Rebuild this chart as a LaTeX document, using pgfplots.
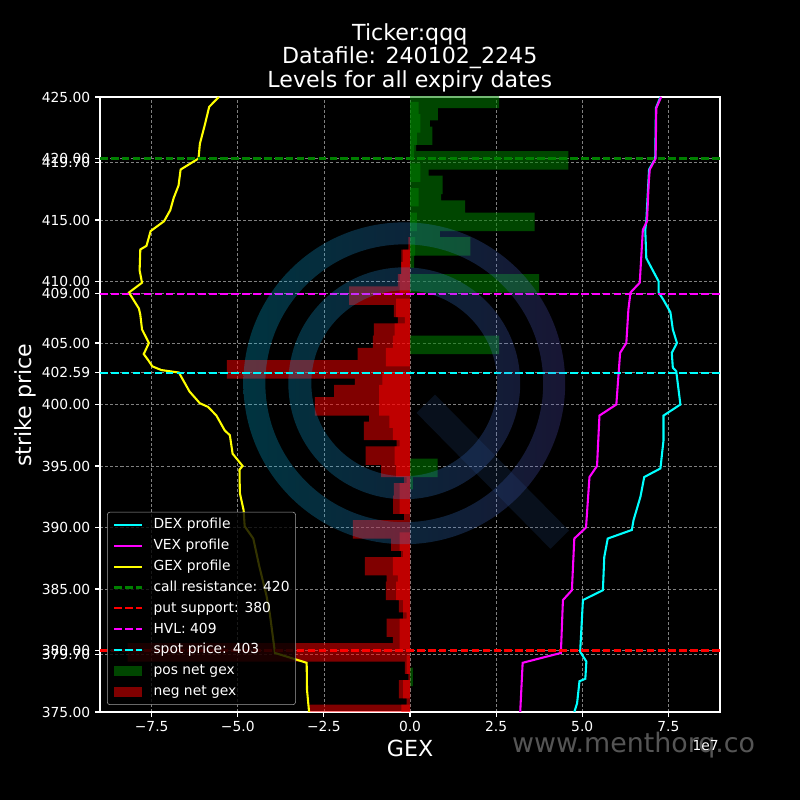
\documentclass[border=0pt]{standalone}
\usepackage{fontspec}
\setmainfont{DejaVu Sans}
\usepackage{pgfplots}
\pgfplotsset{compat=1.18}
\definecolor{poscol}{RGB}{0,128,0}
\definecolor{negcol}{RGB}{255,0,0}
\definecolor{dexcol}{RGB}{0,255,255}
\definecolor{vexcol}{RGB}{255,0,255}
\definecolor{gexcol}{RGB}{255,255,0}
\definecolor{gridcol}{RGB}{128,128,128}
\definecolor{wmgray}{RGB}{85,85,85}
\definecolor{legframe}{RGB}{160,160,160}
\definecolor{logoA}{RGB}{0,208,255}
\definecolor{logoB}{RGB}{96,88,208}
\definecolor{logoC}{RGB}{40,80,140}

\pgfplotstableread{
x y
2.59 424.85
0.81 423.85
0.58 422.85
0.65 421.85
0.18 420.85
4.60 419.85
0.54 418.85
0.95 417.85
0.90 416.85
1.60 415.85
3.62 414.85
0.87 413.85
1.75 412.85
0.12 411.85
3.75 409.85
2.59 404.85
0.80 394.85
0.08 393.85
0.08 377.85
}\posbars

\pgfplotstableread{
x y
0.25 423.85
0.30 422.85
0.20 421.85
0.12 420.85
0.30 418.85
0.25 416.85
0.20 414.85
0.15 412.85
}\posbarsb

\pgfplotstableread{
x y
-0.05 412.85
-0.20 411.85
-0.26 410.85
-0.35 409.85
-1.77 408.85
-0.70 408.85
-0.47 407.85
-0.15 406.85
-1.05 405.85
-1.08 404.85
-1.52 403.85
-5.32 402.85
-2.00 402.85
-1.60 401.85
-2.20 400.85
-2.76 399.85
-1.19 398.85
-1.34 397.85
-0.39 396.85
-1.29 395.85
-0.84 394.85
-0.17 393.85
-0.47 392.85
-0.49 391.85
-0.17 390.85
-1.66 389.85
-0.60 389.85
-0.55 388.85
-0.26 387.85
-1.31 386.85
-0.68 385.85
-0.70 384.85
-0.32 383.85
-0.20 382.85
-0.68 381.85
-0.50 380.85
-8.20 379.85
-0.70 379.85
-0.15 378.85
-0.05 377.85
-0.32 376.85
-0.10 375.85
-2.94 374.85
}\negbars

\pgfplotstableread{
x y
-0.25 411.85
-0.25 410.85
-0.30 409.85
-0.40 407.85
-0.35 406.85
-0.45 405.85
-0.50 404.85
-0.70 403.85
-0.80 401.85
-0.90 400.85
-0.90 399.85
-0.60 398.85
-0.50 397.85
-0.30 396.85
-0.45 395.85
-0.40 394.85
-0.10 393.85
-0.30 392.85
-0.30 391.85
-0.30 388.85
-0.20 387.85
-0.50 386.85
-0.35 385.85
-0.40 384.85
-0.20 383.85
-0.10 382.85
-0.30 381.85
-0.30 380.85
-0.10 378.85
-0.20 376.85
-0.25 374.85
}\negbarsb

\pgfplotstableread{
x y
7.27 425.0
7.14 424.1
7.12 420.0
6.94 419.1
6.86 414.9
6.83 414.2
6.86 411.9
7.22 410.0
7.22 409.1
7.36 408.5
7.56 407.5
7.63 406.1
7.75 405.0
7.60 404.2
7.63 403.0
7.73 402.7
7.85 400.0
7.36 399.1
7.36 397.1
7.27 394.8
6.80 394.1
6.69 392.5
6.49 390.6
6.44 389.8
5.74 389.1
5.64 387.6
5.60 384.9
5.02 384.1
4.94 379.9
5.12 379.1
5.09 377.7
4.92 377.5
4.85 375.7
4.77 375.0
}\dex

\pgfplotstableread{
x y
7.29 425.0
7.15 424.1
7.13 420.0
6.96 419.1
6.93 418.0
6.88 414.9
6.76 414.2
6.67 409.9
6.40 409.1
6.34 407.7
6.28 405.0
6.10 404.2
5.99 400.0
5.50 399.1
5.43 395.0
5.21 394.1
5.11 390.0
4.77 389.1
4.70 384.9
4.44 384.1
4.38 379.8
3.27 379.0
3.20 375.0
}\vex

\pgfplotstableread{
x y
-5.55 425.0
-5.83 424.2
-5.96 422.7
-6.10 421.2
-6.14 420.0
-6.66 419.1
-6.72 417.8
-6.86 416.8
-6.96 415.8
-7.14 414.9
-7.53 414.1
-7.65 412.9
-7.83 412.6
-7.85 410.9
-7.78 409.9
-8.16 409.1
-7.87 407.8
-7.83 407.3
-7.78 406.1
-7.58 405.0
-7.73 404.1
-7.60 403.6
-7.48 403.1
-7.22 402.8
-6.71 402.6
-6.40 401.05
-6.10 400.1
-5.86 399.8
-5.62 399.1
-5.38 397.9
-5.23 397.5
-5.15 396.0
-4.86 395.0
-4.95 394.7
-4.94 392.8
-4.83 391.4
-4.80 390.1
-4.55 389.1
-4.38 386.9
-4.17 384.5
-4.07 383.0
-3.92 379.8
-3.00 379.0
-2.99 376.8
-2.93 375.0
}\gex

\begin{document}
\begin{tikzpicture}
\fill[black] (0,0) rectangle (8in,8in);
\begin{scope}[shift={(0,8in)},x=0.01in,y=-0.01in]
\node[text=wmgray, font=\fontsize{19.4}{22}\selectfont, anchor=base, inner sep=0pt] at (634,753) {www.menthorq.co};
\end{scope}
\begin{axis}[
  at={(1in,0.88in)}, anchor=south west,
  scale only axis, width=6.2in, height=6.15in,
  xmin=-9, xmax=9, ymin=375, ymax=425,
  axis line style={white, line width=0.8pt},
  tick style={white, line width=0.8pt},
  tick align=outside, major tick length=3.5pt,
  xtick pos=left, ytick pos=left,
  ticklabel style={text=white, font=\fontsize{10}{12}\selectfont},
  grid=major,
  major grid style={gridcol, dash pattern=on 2.2pt off 1.5pt, line width=0.5pt},
  xtick={-7.5,-5,-2.5,0,2.5,5,7.5},
  xticklabels={−7.5,−5.0,−2.5,0.0,2.5,5.0,7.5},
  ytick={375,379.7,380,385,390,395,400,402.59,405,409,410,415,419.7,420,425},
  yticklabels={375.00,379.70,380.00,385.00,390.00,395.00,400.00,402.59,405.00,409.00,410.00,415.00,419.70,420.00,425.00},
  xlabel={GEX}, ylabel={strike price},
  xlabel style={at={(axis description cs:0.5,-0.060)}, anchor=center, text=white, font=\fontsize{16}{19}\selectfont},
  ylabel style={at={(axis description cs:-0.121,0.499)}, anchor=center, rotate=0, text=white, font=\fontsize{16}{19}\selectfont},
  legend image code/.code={\draw[#1] (0cm,0cm) -- (0.7cm,0cm);},
  legend cell align=left,
  legend style={at={(axis description cs:0.0113,0.0114)}, anchor=south west,
    fill=black, fill opacity=0.8, draw opacity=1, text opacity=1,
    draw=legframe, rounded corners=2pt, text=white,
    font=\fontsize{10}{12}\selectfont, inner sep=4.3pt, row sep=5.3pt, column sep=7.7pt,
    nodes={inner sep=0pt, text height=7.6pt, text depth=2.2pt}},
]
\addplot[xbar, bar width=1.5, bar shift=0pt, draw=none, fill=poscol, fill opacity=0.55, forget plot] table {\posbars};
\addplot[xbar, bar width=1.5, bar shift=0pt, draw=none, fill=poscol, fill opacity=0.55, forget plot] table {\posbarsb};
\addplot[xbar, bar width=1.5, bar shift=0pt, draw=none, fill=negcol, fill opacity=0.5, forget plot] table {\negbars};
\addplot[xbar, bar width=1.5, bar shift=0pt, draw=none, fill=negcol, fill opacity=0.5, forget plot] table {\negbarsb};

\addplot[dexcol, line width=1.5pt] table {\dex};
\addlegendentry{DEX profile}
\addplot[vexcol, line width=1.5pt] table {\vex};
\addlegendentry{VEX profile}
\addplot[gexcol, line width=1.5pt] table {\gex};
\addlegendentry{GEX profile}
\addplot[poscol, line width=1.5pt, dash pattern=on 5.5pt off 2.4pt] coordinates {(-9,420) (9,420)};
\addlegendentry{call resistance: 420}
\addplot[negcol, line width=1.5pt, dash pattern=on 5.5pt off 2.4pt] coordinates {(-9,380) (9,380)};
\addlegendentry{put support: 380}
\addplot[vexcol, line width=1.5pt, dash pattern=on 5.5pt off 2.4pt] coordinates {(-9,409) (9,409)};
\addlegendentry{HVL: 409}
\addplot[dexcol, line width=1.5pt, dash pattern=on 5.5pt off 2.4pt] coordinates {(-9,402.59) (9,402.59)};
\addlegendentry{spot price: 403}
\addlegendimage{legend image code/.code={\fill[draw=none, poscol, fill opacity=0.55, sharp corners] (0cm,-0.127cm) rectangle (0.7cm,0.127cm);}}
\addlegendentry{pos net gex}
\addlegendimage{legend image code/.code={\fill[draw=none, negcol, fill opacity=0.5, sharp corners] (0cm,-0.127cm) rectangle (0.7cm,0.127cm);}}
\addlegendentry{neg net gex}
\end{axis}
\begin{scope}[shift={(0,8in)},x=0.01in,y=-0.01in]
\shade[left color=logoA, right color=logoB, fill opacity=0.25, even odd rule]
  (404.5,383.5) circle (161) (404.5,383.5) circle (139)
  (404.5,383.5) circle (116) (404.5,383.5) circle (93);
\draw[logoC, line width=0.26in, draw opacity=0.2] (426,404) -- (560,540);
\node[text=white, font=\fontsize{10}{12}\selectfont, inner sep=0pt] at (706,746) {1e7};
\node[text=white, font=\fontsize{16}{19}\selectfont, anchor=base, inner sep=0pt] at (410,41) {Ticker:qqq};
\node[text=white, font=\fontsize{16}{19}\selectfont, anchor=base, inner sep=0pt] at (410,64) {Datafile: 240102\_2245};
\node[text=white, font=\fontsize{16}{19}\selectfont, anchor=base, inner sep=0pt] at (410,88) {Levels for all expiry dates};
\end{scope}
\pgfresetboundingbox
\useasboundingbox (0,0) rectangle (8in,8in);
\end{tikzpicture}
\end{document}
